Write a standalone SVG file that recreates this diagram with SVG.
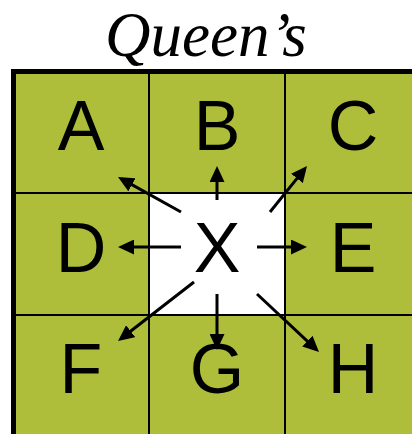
<svg xmlns="http://www.w3.org/2000/svg" width="412" height="434" viewBox="0 0 412 434">
<style>
.cell{fill:#AFBE3A;}
.center{fill:#FFFFFF;}
.lbl{font-family:"Liberation Sans",Arial,sans-serif;font-size:70px;fill:#000;text-anchor:middle;}
.grid{stroke:#000;stroke-width:2;fill:none;}
.border{stroke:#000;stroke-width:5;fill:none;}
.arr{stroke:#000;stroke-width:3;fill:none;marker-end:url(#ah);}
</style>
<defs>
<marker id="ah" markerUnits="userSpaceOnUse" markerWidth="16" markerHeight="15" refX="12" refY="7.5" orient="auto">
<path d="M0,0 L16,7.5 L0,15 z" fill="#000"/>
</marker>
</defs>
<rect x="0" y="0" width="412" height="434" fill="#FFFFFF"/>
<text x="206" y="56" font-family="'Liberation Serif','Times New Roman',serif" font-style="italic" font-size="63" text-anchor="middle" fill="#000">Queen’s</text>
<g id="A"><rect class="cell" x="13" y="71" width="136" height="122"/><text class="lbl" x="81" y="150">A</text></g>
<g id="B"><rect class="cell" x="149" y="71" width="136" height="122"/><text class="lbl" x="217" y="150">B</text></g>
<g id="C"><rect class="cell" x="285" y="71" width="127" height="122"/><text class="lbl" x="353" y="150">C</text></g>
<g id="D"><rect class="cell" x="13" y="193" width="136" height="122"/><text class="lbl" x="81" y="272">D</text></g>
<g id="X"><rect class="center" x="149" y="193" width="136" height="122"/><text class="lbl" x="217" y="272">X</text></g>
<g id="E"><rect class="cell" x="285" y="193" width="127" height="122"/><text class="lbl" x="353" y="272">E</text></g>
<g id="F"><rect class="cell" x="13" y="315" width="136" height="119"/><text class="lbl" x="81" y="393">F</text></g>
<g id="G"><rect class="cell" x="149" y="315" width="136" height="119"/><text class="lbl" x="217" y="393">G</text></g>
<g id="H"><rect class="cell" x="285" y="315" width="127" height="119"/><text class="lbl" x="353" y="393">H</text></g>
<g id="gridlines">
<line class="grid" x1="149" y1="71" x2="149" y2="434"/>
<line class="grid" x1="285" y1="71" x2="285" y2="434"/>
<line class="grid" x1="13" y1="193" x2="412" y2="193"/>
<line class="grid" x1="13" y1="315" x2="412" y2="315"/>
<path class="border" d="M13.5,434 L13.5,71.5 L412,71.5"/>
</g>
<g id="connectors">
<line class="arr" x1="181" y1="212" x2="121.5" y2="178.9"/>
<line class="arr" x1="217" y1="200" x2="217" y2="170"/>
<line class="arr" x1="270" y1="212" x2="304.5" y2="169.1"/>
<line class="arr" x1="181" y1="247" x2="122" y2="247"/>
<line class="arr" x1="257" y1="247" x2="303" y2="247"/>
<line class="arr" x1="194" y1="282" x2="121.2" y2="338.5"/>
<line class="arr" x1="217" y1="294" x2="217" y2="346"/>
<line class="arr" x1="257" y1="294" x2="316.1" y2="349.3"/>
</g>
</svg>
